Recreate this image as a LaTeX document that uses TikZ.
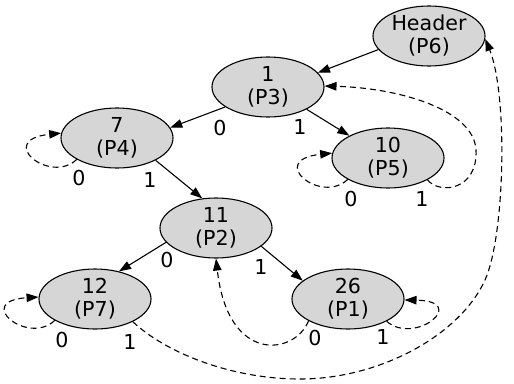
\documentclass[tikz,border=0pt]{standalone}
\usepackage{fontspec}
\setmainfont{DejaVu Sans}
\usetikzlibrary{arrows.meta,shapes.geometric}
\definecolor{nodefill}{HTML}{D6D6D6}
\tikzset{
  pnode/.style={ellipse, draw, fill=nodefill, line width=1.1pt,
    minimum width=112pt, minimum height=60pt, inner sep=0pt, align=center,
    font=\fontsize{20.6}{23}\selectfont},
  ptr/.style={line width=1.1pt, -{Triangle[length=12pt,width=8.5pt]}},
  back/.style={ptr, dash pattern=on 6pt off 4pt},
  bit/.style={inner sep=0pt, font=\fontsize{20.6}{23}\selectfont},
}
\begin{document}
\begin{tikzpicture}[x=1pt,y=-1pt]
\useasboundingbox (0,0) rectangle (514,383);

% tree nodes
\node[pnode] (h)   at (429,36)  {Header\\(P6)};
\node[pnode] (n1)  at (268,87)  {1\\(P3)};
\node[pnode] (n7)  at (117,138) {7\\(P4)};
\node[pnode] (n10) at (388,158) {10\\(P5)};
\node[pnode] (n11) at (216,228) {11\\(P2)};
\node[pnode] (n26) at (348,299) {26\\(P1)};
\node[pnode] (n12) at (95,299)  {12\\(P7)};

% bit labels
\node[bit] (b1z)  at (220,128) {0};
\node[bit] (b1o)  at (300,127) {1};
\node[bit] (b7z)  at (79,178)  {0};
\node[bit] (b7o)  at (150,180) {1};
\node[bit] (b10z) at (351,199) {0};
\node[bit] (b10o) at (422,199) {1};
\node[bit] (b11z) at (167,260) {0};
\node[bit] (b11o) at (261,267) {1};
\node[bit] (b26z) at (315,338) {0};
\node[bit] (b26o) at (383,337) {1};
\node[bit] (b12z) at (62,340)  {0};
\node[bit] (b12o) at (130,342) {1};

% child links
\draw[ptr] (h.195)   -- (n1.16);
\draw[ptr] (n1.205)  -- (n7.11);
\draw[ptr] (n1.330)  -- (n10.150);
\draw[ptr] (n7.330)  -- (n11.115);
\draw[ptr] (n11.196) -- (n12.49);
\draw[ptr] (n11.338) -- (n26.158);

% back links
\draw[back] (n7.208)  .. controls (50,185) and (-5,140) .. (n7.175);
\draw[back] (n10.208) .. controls (321,205) and (266,160) .. (n10.175);
\draw[back] (n12.208) .. controls (28,346) and (-27,301) .. (n12.178);
\draw[back] (n26.330) .. controls (415,346) and (470,301) .. (n26.359);
\draw[back] (n26.209) .. controls (295,355) and (228,365) .. (n11.270);
\draw[back] (n10.331) .. controls (440,195) and (478,190) .. (476,150)
                      .. controls (474,110) and (400,88) .. (n1.1);
\draw[back] (n12.329) .. controls (165,352) and (230,379) .. (300,379)
                      .. controls (380,379) and (460,335) .. (485,280)
                      .. controls (505,236) and (508,95) .. (h.357);
\end{tikzpicture}
\end{document}
